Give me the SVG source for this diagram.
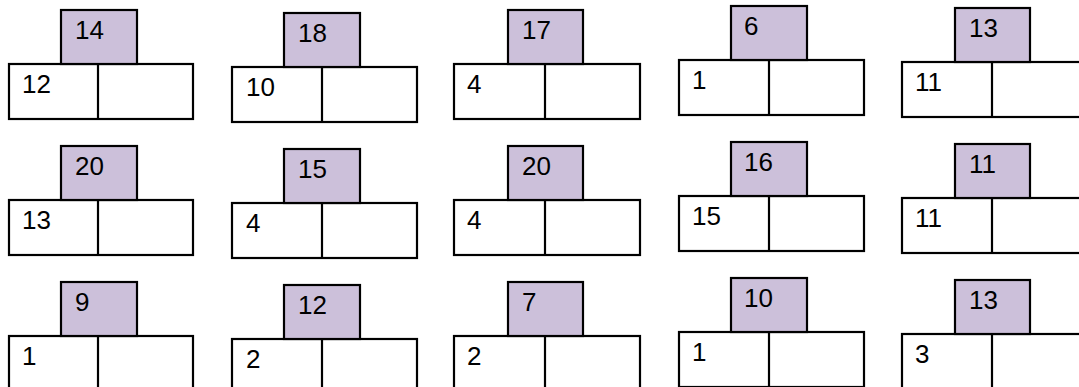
<svg xmlns="http://www.w3.org/2000/svg" width="1079" height="387" viewBox="0 0 1079 387">
<style>
.top{fill:#ccc0da;stroke:#000;stroke-width:2.2}
.bot{fill:#fff;stroke:#000;stroke-width:2.2}
.div{stroke:#000;stroke-width:2.2}
text{font-family:"Liberation Sans",Arial,sans-serif;font-size:26px;fill:#000}
</style>
<rect width="1079" height="387" fill="#fff"/>
<defs>
<g id="u1"><rect class="bot" x="9" y="0" width="184" height="55"/><line class="div" x1="98" y1="0" x2="98" y2="55"/><rect class="top" x="61" y="-54" width="76" height="54"/></g>
<g id="u2"><rect class="bot" x="232" y="0" width="185" height="55"/><line class="div" x1="322" y1="0" x2="322" y2="55"/><rect class="top" x="284" y="-54" width="76" height="54"/></g>
<g id="u3"><rect class="bot" x="454" y="0" width="186" height="55"/><line class="div" x1="545" y1="0" x2="545" y2="55"/><rect class="top" x="508" y="-54" width="75" height="54"/></g>
<g id="u4"><rect class="bot" x="679" y="0" width="185" height="55"/><line class="div" x1="769" y1="0" x2="769" y2="55"/><rect class="top" x="731" y="-54" width="76" height="54"/></g>
<g id="u5"><rect class="bot" x="902" y="0" width="186" height="55"/><line class="div" x1="992" y1="0" x2="992" y2="55"/><rect class="top" x="955" y="-54" width="75" height="54"/></g>
</defs>

<g id="node-r1c1"><use href="#u1" y="64"/><text x="75" y="39">14</text><text x="22" y="93">12</text></g>
<g id="node-r1c2"><use href="#u2" y="67"/><text x="298" y="42">18</text><text x="246" y="96">10</text></g>
<g id="node-r1c3"><use href="#u3" y="64"/><text x="522" y="39">17</text><text x="467" y="93">4</text></g>
<g id="node-r1c4"><use href="#u4" y="60"/><text x="744" y="35">6</text><text x="692" y="89">1</text></g>
<g id="node-r1c5"><use href="#u5" y="62"/><text x="969" y="37">13</text><text x="915" y="91">11</text></g>

<g id="node-r2c1"><use href="#u1" y="200"/><text x="75" y="175">20</text><text x="22" y="229">13</text></g>
<g id="node-r2c2"><use href="#u2" y="203"/><text x="298" y="178">15</text><text x="246" y="232">4</text></g>
<g id="node-r2c3"><use href="#u3" y="200"/><text x="522" y="175">20</text><text x="467" y="229">4</text></g>
<g id="node-r2c4"><use href="#u4" y="196"/><text x="744" y="171">16</text><text x="692" y="225">15</text></g>
<g id="node-r2c5"><use href="#u5" y="198"/><text x="969" y="173">11</text><text x="915" y="227">11</text></g>

<g id="node-r3c1"><use href="#u1" y="336"/><text x="75" y="311">9</text><text x="22" y="365">1</text></g>
<g id="node-r3c2"><use href="#u2" y="339"/><text x="298" y="314">12</text><text x="246" y="368">2</text></g>
<g id="node-r3c3"><use href="#u3" y="336"/><text x="522" y="311">7</text><text x="467" y="365">2</text></g>
<g id="node-r3c4"><use href="#u4" y="332"/><text x="744" y="307">10</text><text x="692" y="361">1</text></g>
<g id="node-r3c5"><use href="#u5" y="334"/><text x="969" y="309">13</text><text x="915" y="363">3</text></g>

<g id="connectors"></g>
</svg>
